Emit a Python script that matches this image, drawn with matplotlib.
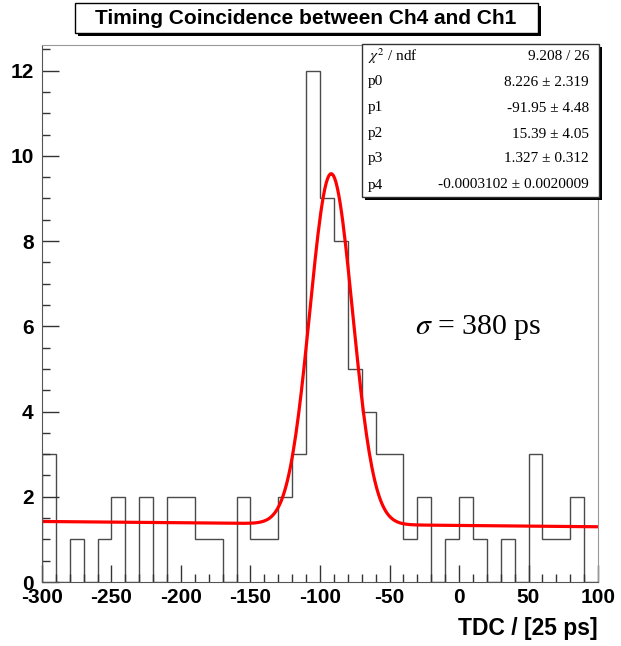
import numpy as np
import matplotlib.pyplot as plt
from matplotlib.patches import Rectangle
from matplotlib.ticker import MultipleLocator

# histogram: TDC bins of width 10 from -300 to 100
bin_edges = np.arange(-300, 101, 10)
counts = [3, 0, 1, 0, 1, 2, 0, 2, 0, 2,
          2, 1, 1, 0, 2, 1, 1, 2, 3, 12,
          9, 8, 5, 4, 3, 3, 1, 2, 0, 1,
          2, 1, 0, 1, 0, 3, 1, 1, 2, 0]

# fit result (gaus + pol1)
p0, p1, p2, p3, p4 = 8.226, -91.95, 15.39, 1.327, -0.0003102
stat_names = [r"$\chi^2$ / ndf", "p0", "p1", "p2", "p3", "p4"]
stat_values = ["9.208 / 26", "8.226 ± 2.319", "-91.95 ± 4.48",
               "15.39 ± 4.05", "1.327 ± 0.312", "-0.0003102 ± 0.0020009"]

plt.rcParams['mathtext.fontset'] = 'stix'
plt.rcParams['axes.unicode_minus'] = False

fig = plt.figure(figsize=(6.21, 6.46), dpi=100)
W, H = 621, 646
ax = fig.add_axes([42 / W, 1 - 582 / H, (598 - 42) / W, (582 - 45) / H])

ax.stairs(counts, bin_edges, color='#4a4a4a', linewidth=1.0, baseline=0)

xf = np.linspace(-299, 99, 400)
yf = p0 * np.exp(-0.5 * ((xf - p1) / p2) ** 2) + p3 + p4 * xf
ax.plot(xf, yf, color='red', linewidth=2.3)

ax.set_xlim(-300, 100)
ax.set_ylim(0, 12.6)
ax.xaxis.set_major_locator(MultipleLocator(50))
ax.xaxis.set_minor_locator(MultipleLocator(10))
ax.yaxis.set_major_locator(MultipleLocator(2))
ax.yaxis.set_minor_locator(MultipleLocator(0.5))
ax.tick_params(which='both', direction='in', top=False, right=False, color='#333333')
ax.tick_params(which='major', length=12, width=1)
ax.tick_params(which='minor', length=6, width=1)
ax.tick_params(axis='x', pad=4)
ax.tick_params(axis='y', pad=6)
for lab in ax.get_xticklabels() + ax.get_yticklabels():
    lab.set_fontfamily('Liberation Sans')
    lab.set_fontweight('bold')
    lab.set_fontsize(15)
for s in ['left', 'bottom']:
    ax.spines[s].set_color('#555555')
for s in ['top', 'right']:
    ax.spines[s].set_color('#999999')

fig.text(598 / W, 1 - 628 / H, "TDC / [25 ps]", ha='right', va='center',
         fontsize=16.5, fontweight='bold', family='Liberation Sans')

# title box with shadow
fig.patches.append(Rectangle((78 / W, 1 - 36 / H), (538 - 75) / W, 30 / H,
                             transform=fig.transFigure, facecolor='black',
                             edgecolor='none'))
fig.patches.append(Rectangle((75 / W, 1 - 33 / H), (538 - 75) / W, 30 / H,
                             transform=fig.transFigure, facecolor='white',
                             edgecolor='black', linewidth=1))
fig.text(306 / W, 1 - 18 / H, "Timing Coincidence between Ch4 and Ch1",
         ha='center', va='center', fontsize=15, fontweight='bold',
         family='Liberation Sans')

# stats box with shadow
fig.patches.append(Rectangle((365 / W, 1 - 200 / H), (599 - 362) / W, (197 - 44) / H,
                             transform=fig.transFigure, facecolor='black',
                             edgecolor='none', zorder=5))
fig.patches.append(Rectangle((362 / W, 1 - 197 / H), (599 - 362) / W, (197 - 44) / H,
                             transform=fig.transFigure, facecolor='white',
                             edgecolor='#333333', linewidth=1, zorder=6))
row_y = [56, 82, 108, 134, 159, 185]
for name, val, yy in zip(stat_names, stat_values, row_y):
    fig.text(368 / W, 1 - yy / H, name, ha='left', va='center', fontsize=11,
             family='Liberation Serif', zorder=7)
    fig.text(589 / W, 1 - yy / H, val, ha='right', va='center', fontsize=11,
             family='Liberation Serif', zorder=7)

fig.text(415 / W, 1 - 327 / H, r"$\sigma$ = 380 ps", ha='left', va='center',
         fontsize=21.5, family='Liberation Serif')

fig.savefig('out.png', dpi=100)
